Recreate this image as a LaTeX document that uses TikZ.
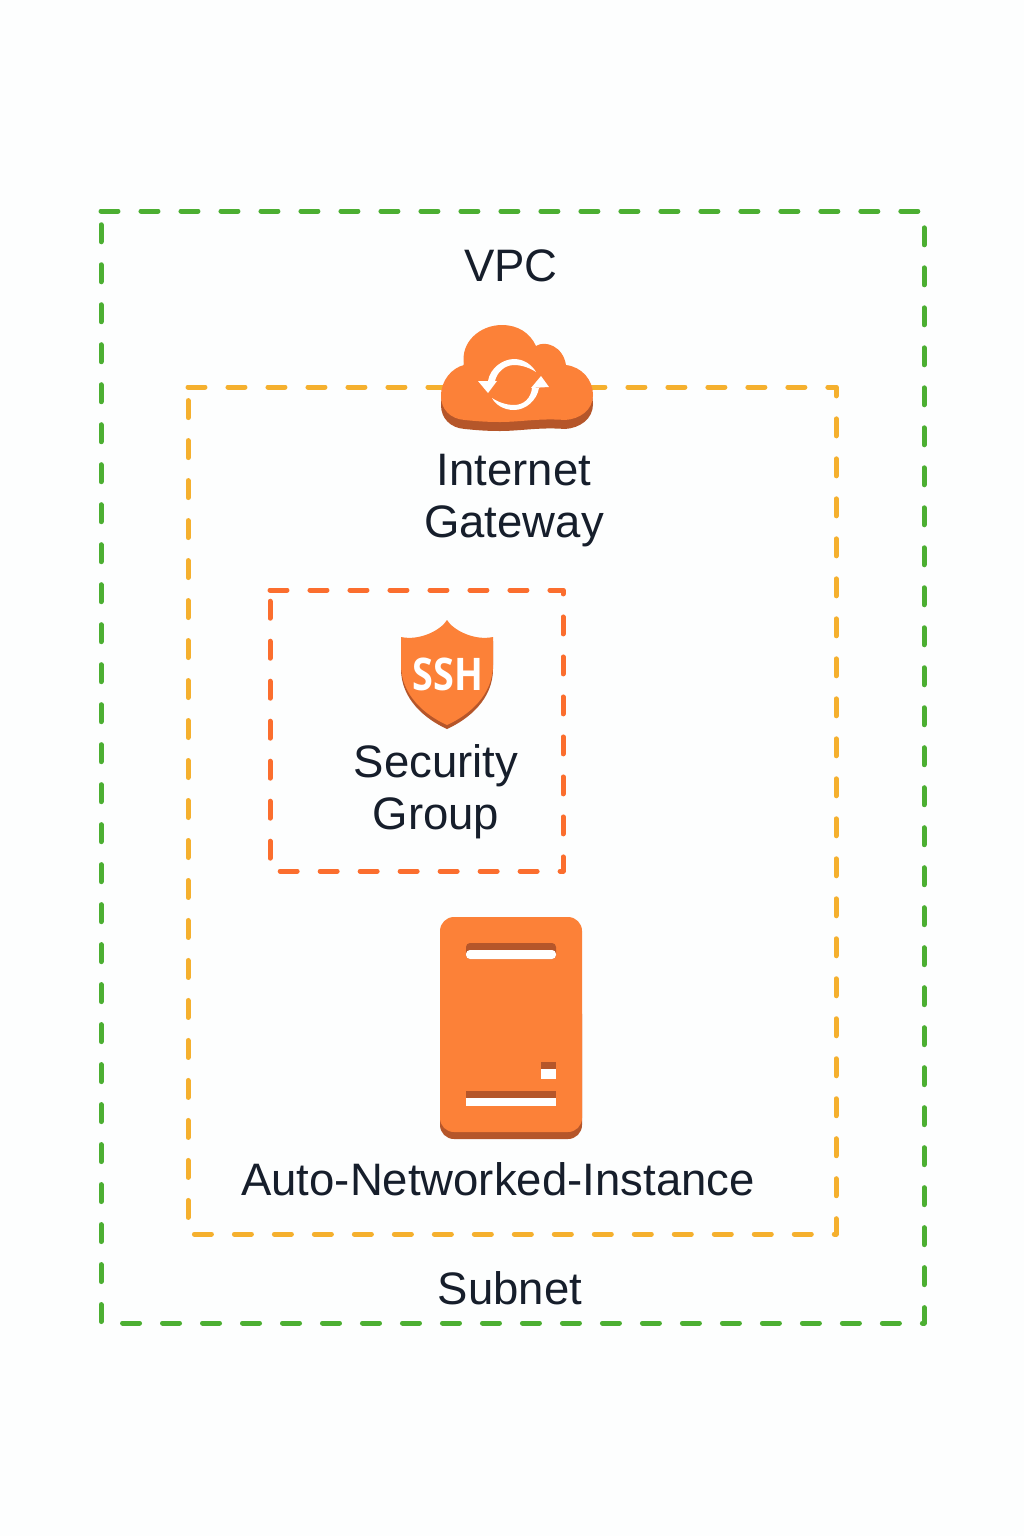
\documentclass[tikz,border=0pt]{standalone}
\usepackage{fontspec}
\usepackage{graphicx}
\setmainfont{Liberation Sans}
\newfontfamily\badgefont{Open Sans}
\definecolor{vpcgreen}{HTML}{4CAF32}
\definecolor{subnetyellow}{HTML}{F5B02E}
\definecolor{sgred}{HTML}{FB6E2E}
\definecolor{iconface}{HTML}{FC8138}
\definecolor{iconside}{HTML}{B5562A}
\definecolor{labelink}{HTML}{161E2B}
\definecolor{pagewhite}{HTML}{FDFEFE}
\tikzset{
    zone/.style={line width=0.1cm,line cap=round,line join=round,dash pattern=on 0.34cm off 0.46cm},
    lbl/.style={text=labelink,align=center,font=\fontsize{25.9}{29.6}\selectfont},
}
\newcommand{\cloudoutline}{(441,396) .. controls (441,380) and (452,368) .. (464,365)
    .. controls (460,342) and (480,325) .. (502,325) .. controls (518,325) and (530,333) .. (536,346)
    .. controls (545,340) and (563,346) .. (566,365) .. controls (582,367) and (593,380) .. (593,395)
    .. controls (593,410) and (580,419) .. (565,420) .. controls (540,418) and (520,422) .. (500,422)
    .. controls (485,422) and (475,421) .. (465,420) .. controls (450,419) and (441,409) .. (441,396) -- cycle}
\newcommand{\shieldoutline}{(447,620) .. controls (441,630) and (420,641) .. (401,637) -- (401,665)
    .. controls (401,695) and (425,715) .. (447,725) .. controls (469,715) and (493,695) .. (493,665)
    -- (493,637) .. controls (474,641) and (453,630) .. (447,620) -- cycle}

\begin{document}
\begin{tikzpicture}[x=0.02cm,y=-0.02cm]
        \useasboundingbox (0,0) rectangle (1024,1536);
        \fill[pagewhite] (0,0) rectangle (1024,1536);

        % Dashed zones
        \draw[zone,vpcgreen] (101,211) -- (924,211) -- (924,1323) -- (101,1323) -- cycle;
        \draw[zone,subnetyellow] (188,387) -- (836,387) -- (836,1234) -- (188,1234) -- cycle;
        \draw[zone,sgred] (270,590) -- (563,590) -- (563,871) -- (270,871) -- cycle;

        % Gateway cloud
        \fill[iconside,yshift=-0.18cm] \cloudoutline;
        \fill[iconface] \cloudoutline;
        \fill[white] (488,381) .. controls (490,368) and (503,359) .. (514,359) .. controls (524,359) and (532,365) .. (536,372)
            .. controls (530,368) and (522,365) .. (514,365) .. controls (505,365) and (497,372) .. (495,381) -- cycle;
        \fill[white] (478,381) -- (497,381) -- (488,393) -- cycle;
        \fill[white] (539,388) .. controls (537,400) and (526,410) .. (514,410) .. controls (503,410) and (495,404) .. (492,398)
            .. controls (498,402) and (506,405) .. (514,405) .. controls (524,405) and (531,398) .. (532,388) -- cycle;
        \fill[white] (531,388) -- (549,387) -- (541,376) -- cycle;

        % Shield
        \fill[iconside,yshift=-0.08cm] \shieldoutline;
        \fill[iconface] \shieldoutline;
        \node (ssh) at (448,674) {\badgefont\bfseries\fontsize{25.6}{28}\selectfont\color{white}\scalebox{0.84}[1]{SSH}};

        % Server
        \fill[iconside,rounded corners=0.28cm] (440,1000) rectangle (582,1139);
        \fill[iconface,rounded corners=0.28cm] (440,917) rectangle (582,1132);
        \fill[iconside,rounded corners=0.08cm] (466,943) rectangle (556,959);
        \fill[white,rounded corners=0.08cm] (466,950) rectangle (556,959);
        \fill[iconside] (541,1062) rectangle (556,1069);
        \fill[white] (541,1069) rectangle (556,1079);
        \fill[iconside] (466,1091) rectangle (556,1098);
        \fill[white] (466,1098) rectangle (556,1106);

        % Labels
        \node[lbl] (vpc) at (511,266) {VPC};
        \node[lbl] (gateway) at (514,501) {Internet\\Gateway};
        \node[lbl] (group) at (436,792) {Security\\Group};
        \node[lbl] (instance) at (498,1179) {Auto-Networked-Instance};
        \node[lbl] (subnet) at (510,1288) {Subnet};
    \end{tikzpicture}
\end{document}
